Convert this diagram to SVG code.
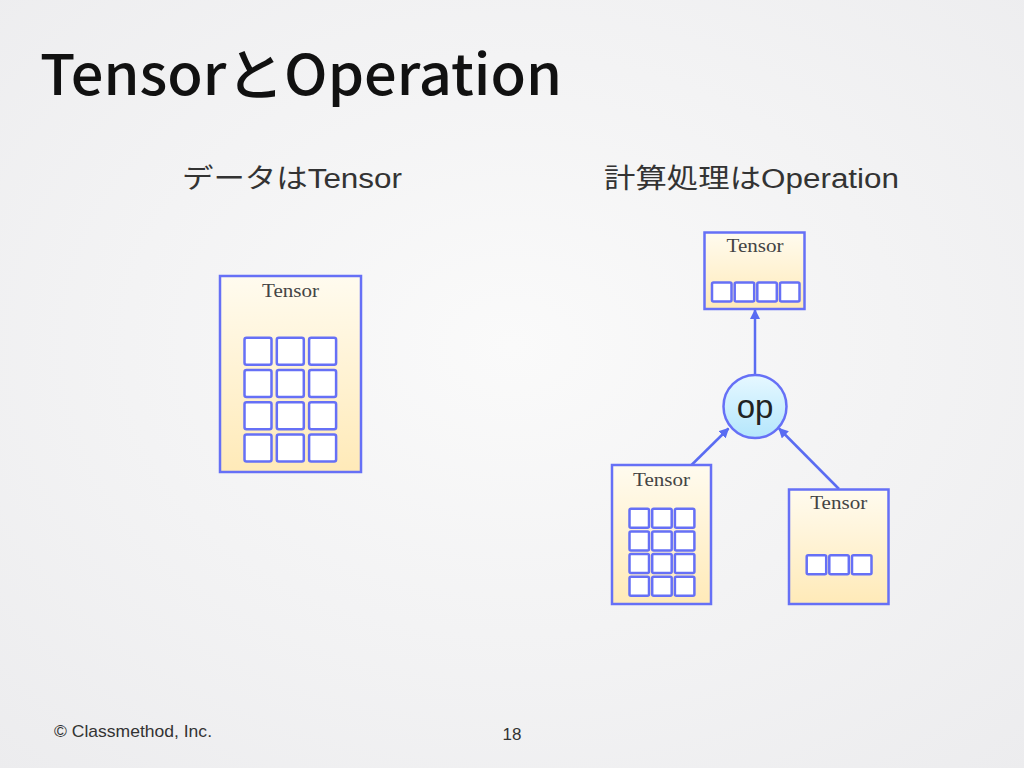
<svg xmlns="http://www.w3.org/2000/svg" width="1024" height="768" viewBox="0 0 1024 768">
<defs>
<radialGradient id="bg" cx="0.5" cy="0.45" r="0.75">
<stop offset="0" stop-color="#fafafa"/>
<stop offset="1" stop-color="#ececee"/>
</radialGradient>
<linearGradient id="box" x1="0" y1="0" x2="0" y2="1">
<stop offset="0" stop-color="#fffbef"/>
<stop offset="1" stop-color="#ffeab8"/>
</linearGradient>
<linearGradient id="opfill" x1="0" y1="0" x2="0" y2="1">
<stop offset="0" stop-color="#e6f8ff"/>
<stop offset="1" stop-color="#b4e6fc"/>
</linearGradient>
<marker id="arr" viewBox="0 0 10 10" refX="9" refY="5" markerWidth="4" markerHeight="4" orient="auto" markerUnits="strokeWidth">
<path d="M0,0 L10,5 L0,10 z" fill="#5a6cf2"/>
</marker>
<style>
.box{fill:url(#box);stroke:#6670f6;stroke-width:2.5}
.cell{fill:#ffffff;stroke:#6670f6;stroke-width:2.5}
.tl{font-family:"Liberation Serif","DejaVu Serif",serif;font-size:19px;fill:#444444;text-anchor:middle}
.conn{stroke:#5a6cf2;stroke-width:2.5;fill:none;marker-end:url(#arr)}
.sub{font-family:"Liberation Sans","Noto Sans CJK JP",sans-serif;font-size:27px;fill:#333333}
</style>
</defs>
<rect width="1024" height="768" fill="url(#bg)"/>
<text x="40" y="95" font-family="'Noto Sans CJK JP','Liberation Sans',sans-serif" font-size="56" font-weight="500" fill="#111111" textLength="522" lengthAdjust="spacingAndGlyphs">TensorとOperation</text>
<text class="sub" x="182" y="188" textLength="220" lengthAdjust="spacingAndGlyphs">データはTensor</text>
<text class="sub" x="604" y="188" textLength="295" lengthAdjust="spacingAndGlyphs">計算処理はOperation</text>

<g id="tensor-left">
<rect class="box" x="220" y="276" width="141" height="196"/>
<text class="tl" x="290.5" y="297" textLength="57" lengthAdjust="spacingAndGlyphs">Tensor</text>
<g>
<rect class="cell" x="244.5" y="337.7" width="27" height="27" rx="2"/>
<rect class="cell" x="276.8" y="337.7" width="27" height="27" rx="2"/>
<rect class="cell" x="309.1" y="337.7" width="27" height="27" rx="2"/>
<rect class="cell" x="244.5" y="370" width="27" height="27" rx="2"/>
<rect class="cell" x="276.8" y="370" width="27" height="27" rx="2"/>
<rect class="cell" x="309.1" y="370" width="27" height="27" rx="2"/>
<rect class="cell" x="244.5" y="402.3" width="27" height="27" rx="2"/>
<rect class="cell" x="276.8" y="402.3" width="27" height="27" rx="2"/>
<rect class="cell" x="309.1" y="402.3" width="27" height="27" rx="2"/>
<rect class="cell" x="244.5" y="434.6" width="27" height="27" rx="2"/>
<rect class="cell" x="276.8" y="434.6" width="27" height="27" rx="2"/>
<rect class="cell" x="309.1" y="434.6" width="27" height="27" rx="2"/>
</g>
</g>

<g id="connectors">
<line class="conn" x1="755" y1="374" x2="755" y2="310"/>
<line class="conn" x1="691.5" y1="465" x2="728.5" y2="428.5"/>
<line class="conn" x1="839" y1="489" x2="779" y2="428.5"/>
</g>

<g id="tensor-top">
<rect class="box" x="704.5" y="232.5" width="100" height="76.5"/>
<text class="tl" x="755" y="252" textLength="57" lengthAdjust="spacingAndGlyphs">Tensor</text>
<rect class="cell" x="712" y="282.5" width="19.5" height="19" rx="1.5"/>
<rect class="cell" x="734.7" y="282.5" width="19.5" height="19" rx="1.5"/>
<rect class="cell" x="757.3" y="282.5" width="19.5" height="19" rx="1.5"/>
<rect class="cell" x="780" y="282.5" width="19.5" height="19" rx="1.5"/>
</g>

<g id="op">
<circle cx="755" cy="406.5" r="31.5" fill="url(#opfill)" stroke="#6670f6" stroke-width="2.5"/>
<text x="755" y="418" font-family="'Liberation Sans',sans-serif" font-size="33" fill="#222222" text-anchor="middle">op</text>
</g>

<g id="tensor-bottom-left">
<rect class="box" x="612" y="465" width="99" height="139"/>
<text class="tl" x="661.5" y="486" textLength="57" lengthAdjust="spacingAndGlyphs">Tensor</text>
<rect class="cell" x="629.5" y="508.7" width="19.5" height="19" rx="1.5"/>
<rect class="cell" x="652.2" y="508.7" width="19.5" height="19" rx="1.5"/>
<rect class="cell" x="674.9" y="508.7" width="19.5" height="19" rx="1.5"/>
<rect class="cell" x="629.5" y="531.4" width="19.5" height="19" rx="1.5"/>
<rect class="cell" x="652.2" y="531.4" width="19.5" height="19" rx="1.5"/>
<rect class="cell" x="674.9" y="531.4" width="19.5" height="19" rx="1.5"/>
<rect class="cell" x="629.5" y="554.1" width="19.5" height="19" rx="1.5"/>
<rect class="cell" x="652.2" y="554.1" width="19.5" height="19" rx="1.5"/>
<rect class="cell" x="674.9" y="554.1" width="19.5" height="19" rx="1.5"/>
<rect class="cell" x="629.5" y="576.8" width="19.5" height="19" rx="1.5"/>
<rect class="cell" x="652.2" y="576.8" width="19.5" height="19" rx="1.5"/>
<rect class="cell" x="674.9" y="576.8" width="19.5" height="19" rx="1.5"/>
</g>

<g id="tensor-bottom-right">
<rect class="box" x="789" y="489.5" width="99.5" height="114.5"/>
<text class="tl" x="838.7" y="509" textLength="57" lengthAdjust="spacingAndGlyphs">Tensor</text>
<rect class="cell" x="806.7" y="555.3" width="19.5" height="19" rx="1.5"/>
<rect class="cell" x="829.3" y="555.3" width="19.5" height="19" rx="1.5"/>
<rect class="cell" x="852" y="555.3" width="19.5" height="19" rx="1.5"/>
</g>

<text x="54" y="737" font-family="'Liberation Sans','Noto Sans CJK JP',sans-serif" font-size="17" fill="#333333" textLength="158" lengthAdjust="spacingAndGlyphs">© Classmethod, Inc.</text>
<text x="512" y="740" font-family="'Liberation Sans',sans-serif" font-size="17" fill="#333333" text-anchor="middle">18</text>
</svg>
